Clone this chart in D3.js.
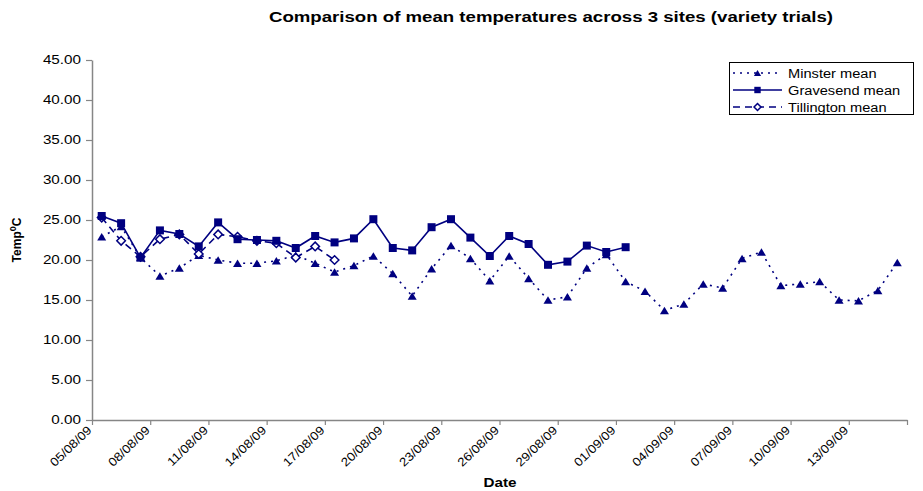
<!DOCTYPE html>
<html>
<head>
<meta charset="utf-8">
<script src="https://cdn.jsdelivr.net/npm/d3@7/dist/d3.min.js"></script>
<style>
  html, body { margin: 0; padding: 0; background: #fff; }
  svg { display: block; font-family: Arial, "Liberation Sans", sans-serif; }
</style>
</head>
<body>
<svg id="chart" width="923" height="491"></svg>
<script>
// Daily readings, 5 Aug – 15 Sep 2009
const dates = [
  "05/08/09","06/08/09","07/08/09","08/08/09","09/08/09","10/08/09","11/08/09",
  "12/08/09","13/08/09","14/08/09","15/08/09","16/08/09","17/08/09","18/08/09",
  "19/08/09","20/08/09","21/08/09","22/08/09","23/08/09","24/08/09","25/08/09",
  "26/08/09","27/08/09","28/08/09","29/08/09","30/08/09","31/08/09","01/09/09",
  "02/09/09","03/09/09","04/09/09","05/09/09","06/09/09","07/09/09","08/09/09",
  "09/09/09","10/09/09","11/09/09","12/09/09","13/09/09","14/09/09","15/09/09"
];
const minster = [
  22.9, 24.2, 20.3, 18.0, 19.0, 20.6, 20.0, 19.6, 19.6, 19.9, 20.6, 19.6, 18.5, 19.3,
  20.5, 18.3, 15.5, 18.9, 21.8, 20.2, 17.4, 20.5, 17.7, 15.0, 15.4, 19.0, 20.7, 17.3,
  16.1, 13.7, 14.5, 17.0, 16.5, 20.2, 21.0, 16.8, 17.0, 17.3, 15.0, 14.9, 16.2, 19.7
];
const gravesend = [
  25.5, 24.6, 20.3, 23.7, 23.25, 21.7, 24.7, 22.6, 22.5, 22.4, 21.5, 23.0, 22.2, 22.7,
  25.1, 21.5, 21.2, 24.1, 25.1, 22.8, 20.5, 23.0, 22.0, 19.4, 19.8, 21.8, 21.0, 21.6
];
const tillington = [
  25.3, 22.4, 20.4, 22.6, 23.2, 20.75, 23.2, 22.9, 22.4, 22.1, 20.3, 21.7, 20.0
];
const yTicks = [0, 5, 10, 15, 20, 25, 30, 35, 40, 45];
const xTickLabels = [
  "05/08/09","08/08/09","11/08/09","14/08/09","17/08/09","20/08/09","23/08/09",
  "26/08/09","29/08/09","01/09/09","04/09/09","07/09/09","10/09/09","13/09/09","16/09/09"
];
const shownXLabels = xTickLabels.slice(0, -1);
const seriesNames = ["Minster mean", "Gravesend mean", "Tillington mean"];

const parse = d3.timeParse("%d/%m/%y");
const fmt = d3.timeFormat("%d/%m/%y");
const navy = "#000080";
const axisGrey = "#868686";

const svg = d3.select("#chart");
const plot = { left: 92, right: 907, top: 60, bottom: 420 };

const x = d3.scaleTime()
  .domain([parse(xTickLabels[0]), parse(xTickLabels[xTickLabels.length - 1])])
  .range([plot.left, plot.right]);
const y = d3.scaleLinear().domain([0, 45]).range([plot.bottom, plot.top]);

// points sit in the middle of each day slot
const px = s => x(d3.timeHour.offset(parse(s), 12));

// widen a text node horizontally by factor f
function widen(sel, f) {
  sel.each(function () {
    const w = this.getComputedTextLength();
    d3.select(this).attr("textLength", w * f).attr("lengthAdjust", "spacingAndGlyphs");
  });
}

// Title
svg.append("text")
  .attr("x", 551).attr("y", 22)
  .attr("text-anchor", "middle")
  .attr("font-weight", "bold").attr("font-size", 14)
  .text("Comparison of mean temperatures across 3 sites (variety trials)")
  .call(widen, 1.33);

// Y axis
const yAxis = d3.axisLeft(y).tickValues(yTicks).tickFormat(d3.format(".2f"))
  .tickSizeOuter(0).tickSizeInner(6).tickPadding(5);
const gy = svg.append("g").attr("transform", `translate(${plot.left},0)`).call(yAxis);
gy.select(".domain").attr("stroke", axisGrey).attr("stroke-width", 1.5);
gy.selectAll(".tick line").attr("stroke", axisGrey).attr("stroke-width", 1.2);
gy.selectAll(".tick text").attr("font-size", 12).attr("fill", "#000")
  .attr("font-family", "Arial, 'Liberation Sans', sans-serif").call(widen, 1.27);

// X axis
const xAxis = d3.axisBottom(x).tickValues(xTickLabels.map(parse))
  .tickFormat(d => shownXLabels.includes(fmt(d)) ? fmt(d) : "")
  .tickSizeOuter(0).tickSizeInner(5);
const gx = svg.append("g").attr("transform", `translate(0,${plot.bottom})`).call(xAxis);
gx.select(".domain").attr("stroke", axisGrey).attr("stroke-width", 1.5);
gx.selectAll(".tick line").attr("stroke", axisGrey).attr("stroke-width", 1.2);
gx.selectAll(".tick text")
  .attr("font-size", 12).attr("fill", "#000")
  .attr("font-family", "Arial, 'Liberation Sans', sans-serif")
  .attr("text-anchor", "end")
  .attr("transform", "translate(-3,8) rotate(-44)")
  .attr("dy", "0.35em").attr("y", 0).attr("x", 0)
  .call(widen, 1.12);

// Axis titles
svg.append("text")
  .attr("x", 500).attr("y", 487)
  .attr("text-anchor", "middle")
  .attr("font-weight", "bold").attr("font-size", 12)
  .text("Date").call(widen, 1.27);

const yt = svg.append("text")
  .attr("transform", "translate(21,240) rotate(-90)")
  .attr("text-anchor", "middle")
  .attr("font-weight", "bold").attr("font-size", 12);
yt.append("tspan").text("Temp");
yt.append("tspan").attr("font-size", 9).attr("dy", -5).text("0");
yt.append("tspan").attr("dy", 5).text("C");

// Series
const series = [
  { name: seriesNames[0], values: minster, dash: "2,5", marker: "triangle" },
  { name: seriesNames[1], values: gravesend, dash: null, marker: "square" },
  { name: seriesNames[2], values: tillington, dash: "7,5", marker: "diamond" }
];

function drawMarker(g, type, cx, cy, scale = 1) {
  if (type === "square") {
    const s = 8 * scale;
    g.append("rect").attr("x", cx - s / 2).attr("y", cy - s / 2)
      .attr("width", s).attr("height", s).attr("fill", navy);
  } else if (type === "triangle") {
    const w = 9 * scale, h = 7.5 * scale;
    g.append("path")
      .attr("d", `M${cx},${cy - h / 2}L${cx + w / 2},${cy + h / 2}L${cx - w / 2},${cy + h / 2}Z`)
      .attr("fill", navy);
  } else {
    const r = 4.3 * scale;
    g.append("path")
      .attr("d", `M${cx},${cy - r}L${cx + r},${cy}L${cx},${cy + r}L${cx - r},${cy}Z`)
      .attr("fill", "#fff").attr("stroke", navy).attr("stroke-width", 1.5);
  }
}

const line = d3.line().x((d, i) => px(dates[i])).y(d => y(d));

// draw lines back-to-front so Gravesend sits on top
const order = [0, 2, 1];
order.forEach(k => {
  const s = series[k];
  svg.append("path")
    .datum(s.values)
    .attr("d", line)
    .attr("fill", "none")
    .attr("stroke", navy)
    .attr("stroke-width", 1.6)
    .attr("stroke-dasharray", s.dash);
});
order.forEach(k => {
  const s = series[k];
  const g = svg.append("g");
  s.values.forEach((v, i) => drawMarker(g, s.marker, px(dates[i]), y(v)));
});

// Legend
const lg = svg.append("g");
lg.append("rect").attr("x", 729.5).attr("y", 62.5).attr("width", 184).attr("height", 52)
  .attr("fill", "#fff").attr("stroke", "#000").attr("stroke-width", 1);
series.forEach((s, i) => {
  const cy = 73 + i * 17;
  lg.append("line").attr("x1", 733).attr("x2", 782).attr("y1", cy).attr("y2", cy)
    .attr("stroke", navy).attr("stroke-width", 1.6).attr("stroke-dasharray", s.dash);
  drawMarker(lg, s.marker, 757.5, cy, 0.8);
  lg.append("text").attr("x", 788).attr("y", cy).attr("dy", "0.36em")
    .attr("font-size", 12.5).text(s.name).call(widen, 1.17);
});
</script>
</body>
</html>
